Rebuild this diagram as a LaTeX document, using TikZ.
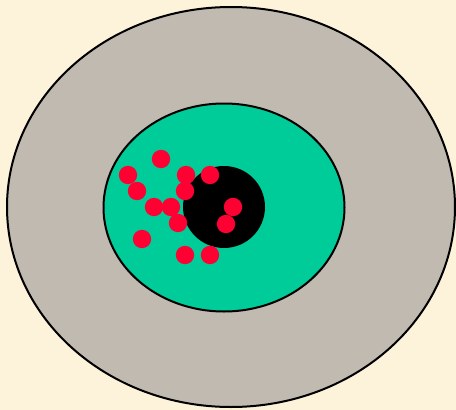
\documentclass[tikz,border=0pt]{standalone}
\usepackage{tikz}
\definecolor{eyeBack}{HTML}{FDF3DA}
\definecolor{eyeGray}{HTML}{C0BAB0}
\definecolor{eyeGreen}{HTML}{00CC99}
\definecolor{eyeRed}{HTML}{FF0033}
\tikzset{ring/.style={draw=black,line width=2pt},
         spot/.style={fill=eyeRed}}
\begin{document}
\begin{tikzpicture}[x=1pt,y=-1pt]
  \fill[eyeBack] (0,0) rectangle (456,410);
  \useasboundingbox (0,0) rectangle (456,410);
  \filldraw[ring,fill=eyeGray] (231,207) ellipse [x radius=224,y radius=200];
  \filldraw[ring,fill=eyeGreen] (224,207.5) ellipse [x radius=120.5,y radius=104];
  \fill[black] (224,207) circle [radius=41];
  \foreach \x/\y in {161/159,128/175,186/175,210/175,137/191,185/191,
                     154/207,171/207,233/207,178/223,226/224,142/239,
                     185/255,210/255}
    \fill[spot] (\x,\y) circle [radius=9.2];
\end{tikzpicture}
\end{document}
